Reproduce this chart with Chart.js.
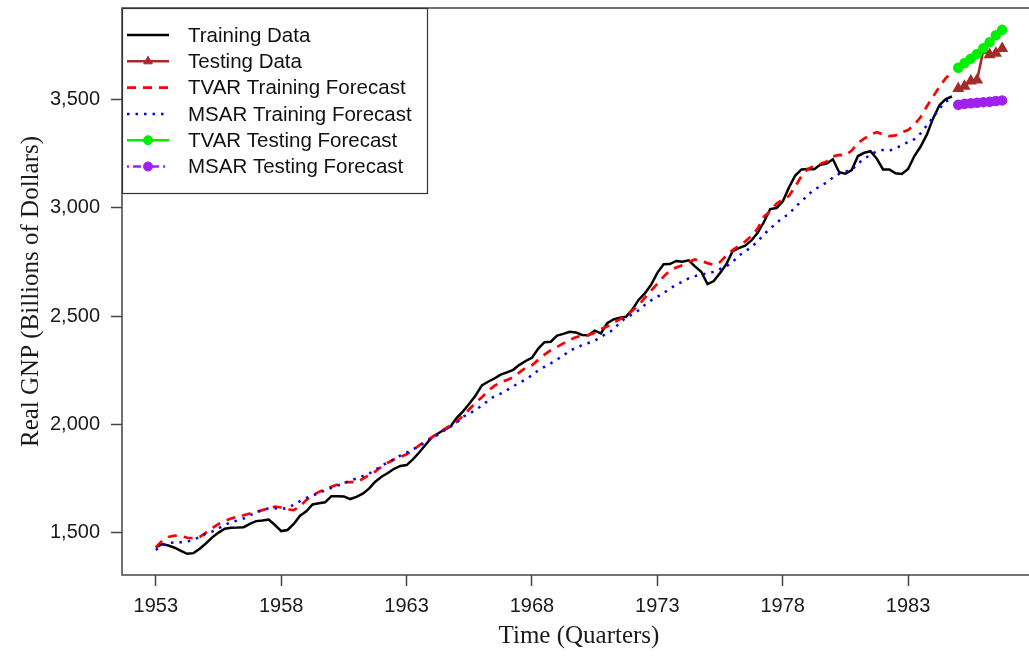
<!DOCTYPE html>
<html>
<head>
<meta charset="utf-8">
<title>Real GNP forecasts</title>
<script src="https://cdn.jsdelivr.net/npm/chart.js@4.4.1/dist/chart.umd.min.js"></script>
<style>
  html, body { margin: 0; padding: 0; background: #fff; overflow: hidden; }
  #wrap { width: 1029px; height: 656px; overflow: hidden; }
</style>
</head>
<body>
<div id="wrap"><canvas id="gnpChart" width="1043" height="656"></canvas></div>
<script>
// quarterly series, first quarter = 1953 Q1
const startYear = 1953;
const xTicks = [1953, 1958, 1963, 1968, 1973, 1978, 1983];
const yTicks = [1500, 2000, 2500, 3000, 3500];

// Training data 1953Q1 - 1984Q4
const trainingGNP = [
  1432, 1447, 1440, 1430, 1415, 1402, 1405, 1425, 1450, 1478,
  1500, 1518, 1522, 1523, 1525, 1540, 1553, 1556, 1560, 1535,
  1507, 1512, 1540, 1578, 1598, 1630, 1636, 1640, 1668, 1668,
  1667, 1655, 1665, 1680, 1703, 1735, 1758, 1775, 1795, 1808,
  1812, 1838, 1870, 1905, 1940, 1958, 1975, 1990, 2030, 2060,
  2095, 2133, 2180, 2197, 2212, 2230, 2240, 2252, 2275, 2293,
  2308, 2350, 2380, 2382, 2410, 2418, 2428, 2425, 2413, 2412,
  2433, 2420, 2468, 2485, 2493, 2497, 2530, 2575, 2605, 2645,
  2700, 2740, 2741, 2755, 2752, 2758, 2730, 2705, 2648, 2662,
  2700, 2740, 2800, 2814, 2826, 2850, 2885, 2935, 2995, 3000,
  3030, 3095, 3150, 3178, 3180, 3179, 3200, 3205, 3225, 3165,
  3158, 3175, 3240, 3255, 3262, 3228, 3178, 3178, 3160, 3157,
  3180, 3240, 3284, 3340, 3415, 3475, 3503, 3515
];

// TVAR one-step forecasts over the training period
const tvarTrain = [
  1432, 1462, 1480, 1486, 1484, 1476, 1474, 1480, 1500, 1520,
  1540, 1553, 1565, 1573, 1580, 1588, 1596, 1604, 1612, 1620,
  1616, 1607, 1604, 1622, 1650, 1672, 1688, 1700, 1712, 1722,
  1732, 1733, 1733, 1748, 1766, 1782, 1805, 1823, 1838, 1850,
  1862, 1880, 1903, 1922, 1940, 1958, 1978, 1995, 2012, 2040,
  2070, 2100, 2125, 2155, 2178, 2195, 2205, 2218, 2240, 2262,
  2273, 2298, 2322, 2343, 2358, 2374, 2390, 2403, 2410, 2412,
  2423, 2440, 2452, 2470, 2485, 2503, 2525, 2550, 2585, 2618,
  2650, 2683, 2710, 2725, 2735, 2750, 2762, 2755, 2745, 2737,
  2750, 2780, 2805, 2825, 2845, 2870, 2905, 2960, 2985, 3020,
  3040, 3055, 3100, 3148, 3180, 3195, 3203, 3215, 3238, 3245,
  3243, 3265, 3300, 3320, 3340, 3350, 3340, 3332, 3335, 3350,
  3360, 3385, 3420, 3470, 3515, 3560, 3600, 3625
];

// MSAR one-step forecasts over the training period
const msarTrain = [
  1420, 1442, 1451, 1455, 1455, 1458, 1468, 1480, 1495, 1505,
  1520, 1535, 1548, 1556, 1565, 1580, 1592, 1605, 1612, 1612,
  1608, 1615, 1628, 1645, 1660, 1670, 1684, 1695, 1706, 1717,
  1728, 1740, 1750, 1761, 1772, 1790, 1808, 1825, 1840, 1856,
  1870, 1885, 1900, 1918, 1935, 1952, 1972, 1990, 2008, 2036,
  2049, 2068, 2086, 2110, 2130, 2142, 2158, 2176, 2192, 2208,
  2227, 2250, 2266, 2282, 2300, 2318, 2340, 2354, 2366, 2376,
  2386, 2405, 2420, 2438, 2470, 2493, 2508, 2527, 2552, 2573,
  2590, 2607, 2628, 2645, 2660, 2675, 2685, 2693, 2697, 2705,
  2718, 2730, 2750, 2780, 2798, 2820, 2845, 2878, 2905, 2930,
  2955, 2972, 3005, 3030, 3060, 3085, 3100, 3118, 3140, 3158,
  3168, 3175, 3205, 3228, 3245, 3262, 3268, 3265, 3275, 3290,
  3305, 3318, 3345, 3382, 3420, 3460, 3492, 3505
];

// Testing period 1985Q1 - 1986Q4
const testingGNP = [3552, 3562, 3587, 3591, 3728, 3708, 3715, 3737];
const tvarTest   = [3648, 3670, 3690, 3712, 3738, 3766, 3798, 3823];
const msarTest   = [3477, 3481, 3484, 3486, 3489, 3491, 3494, 3497];

const quarterX = i => startYear + i / 4;
const toPoints = (vals, offset) => vals.map((v, i) => ({ x: quarterX(i + offset), y: v }));
const nTrain = trainingGNP.length;

// R style box around the plot region
const boxPlugin = {
  id: 'plotBox',
  afterDatasetsDraw(chart) {
    const { ctx, chartArea: a } = chart;
    ctx.save();
    ctx.strokeStyle = '#444';
    ctx.lineWidth = 1.5;
    ctx.strokeRect(a.left, a.top, a.right - a.left, a.bottom - a.top);
    ctx.restore();
  }
};

// legend drawn like R's legend(): line sample with marker in the middle
const rLegend = {
  id: 'rLegend',
  afterDraw(chart) {
    const ctx = chart.ctx;
    const left = 122, top = 8, w = 305, h = 185;
    ctx.save();
    ctx.fillStyle = '#fff';
    ctx.fillRect(left, top, w, h);
    ctx.strokeStyle = '#333';
    ctx.lineWidth = 1.2;
    ctx.strokeRect(left + 0.5, top + 0.5, w, h);
    chart.data.datasets.forEach((ds, i) => {
      const y = 35 + i * 26.3;
      ctx.beginPath();
      ctx.strokeStyle = ds.borderColor;
      ctx.lineWidth = ds.borderWidth;
      ctx.setLineDash(ds.borderDash || []);
      ctx.moveTo(127, y);
      ctx.lineTo(169, y);
      ctx.stroke();
      ctx.setLineDash([]);
      if (ds.pointRadius > 0) {
        ctx.fillStyle = ds.pointBackgroundColor;
        ctx.strokeStyle = ds.pointBackgroundColor;
        ctx.lineWidth = 1;
        Chart.helpers.drawPoint(ctx, { pointStyle: ds.pointStyle, radius: ds.pointRadius + 0.5, rotation: 0, borderWidth: 1 }, 148, y);
      }
      ctx.fillStyle = '#111';
      ctx.font = '20.5px "Liberation Sans", Arial, sans-serif';
      ctx.textBaseline = 'middle';
      ctx.textAlign = 'left';
      ctx.fillText(ds.label, 188, y + 1);
    });
    ctx.restore();
  }
};

const ctx = document.getElementById('gnpChart').getContext('2d');
new Chart(ctx, {
  type: 'line',
  data: {
    datasets: [
      {
        label: 'Training Data',
        data: toPoints(trainingGNP, 0),
        borderColor: '#000000',
        borderWidth: 2.5,
        pointRadius: 0,
        order: 6
      },
      {
        label: 'Testing Data',
        data: toPoints(testingGNP, nTrain),
        borderColor: '#A52A2A',
        borderWidth: 2.5,
        pointStyle: 'triangle',
        pointRadius: 4.5,
        pointBackgroundColor: '#A52A2A',
        pointBorderColor: '#A52A2A',
        order: 5
      },
      {
        label: 'TVAR Training Forecast',
        data: toPoints(tvarTrain, 0),
        borderColor: '#FF0000',
        borderWidth: 2.7,
        borderDash: [9, 7],
        pointRadius: 0,
        order: 4
      },
      {
        label: 'MSAR Training Forecast',
        data: toPoints(msarTrain, 0),
        borderColor: '#0000FF',
        borderWidth: 2.5,
        borderDash: [2.5, 6],
        pointRadius: 0,
        order: 3
      },
      {
        label: 'TVAR Testing Forecast',
        data: toPoints(tvarTest, nTrain),
        borderColor: '#00EE00',
        borderWidth: 2.5,
        pointStyle: 'circle',
        pointRadius: 4,
        pointBackgroundColor: '#00EE00',
        pointBorderColor: '#00EE00',
        order: 2
      },
      {
        label: 'MSAR Testing Forecast',
        data: toPoints(msarTest, nTrain),
        borderColor: '#A020F0',
        borderWidth: 2.5,
        borderDash: [2, 4, 8, 4],
        pointStyle: 'circle',
        pointRadius: 4,
        pointBackgroundColor: '#A020F0',
        pointBorderColor: '#A020F0',
        order: 1
      }
    ]
  },
  options: {
    responsive: false,
    devicePixelRatio: 1,
    animation: false,
    events: [],
    elements: { line: { tension: 0, fill: false } },
    layout: { padding: { top: 8, right: 4, left: 0, bottom: 0 } },
    plugins: {
      legend: { display: false },
      tooltip: { enabled: false },
      title: { display: false }
    },
    scales: {
      x: {
        type: 'linear',
        min: 1951.65,
        max: 1988.1,
        afterBuildTicks: s => { s.ticks = xTicks.map(v => ({ value: v })); },
        afterFit: s => { s.height = 81; s.paddingLeft = 0; s.paddingRight = 0; },
        grid: { drawOnChartArea: false, drawTicks: true, tickLength: 11, tickColor: '#444', tickWidth: 1.5 },
        border: { display: false },
        ticks: {
          color: '#1a1a1a',
          padding: 8,
          maxRotation: 0,
          font: { family: '"Liberation Sans", Arial, sans-serif', size: 20 },
          callback: v => String(v)
        },
        title: {
          display: true,
          text: 'Time (Quarters)',
          color: '#1a1a1a',
          font: { family: '"Liberation Serif", "Times New Roman", serif', size: 25 },
          padding: { top: 0, bottom: 5 }
        }
      },
      y: {
        type: 'linear',
        min: 1304,
        max: 3924,
        afterBuildTicks: s => { s.ticks = yTicks.map(v => ({ value: v })); },
        afterFit: s => { s.width = 122; s.paddingTop = 0; s.paddingBottom = 0; },
        grid: { drawOnChartArea: false, drawTicks: true, tickLength: 11, tickColor: '#444', tickWidth: 1.5 },
        border: { display: false },
        ticks: {
          color: '#1a1a1a',
          padding: 11,
          font: { family: '"Liberation Sans", Arial, sans-serif', size: 20 },
          callback: v => v.toLocaleString('en-US')
        },
        title: {
          display: true,
          text: 'Real GNP (Billions of Dollars)',
          color: '#1a1a1a',
          font: { family: '"Liberation Serif", "Times New Roman", serif', size: 25 },
          padding: { top: 16, bottom: 0 }
        }
      }
    }
  },
  plugins: [boxPlugin, rLegend]
});
</script>
</body>
</html>
